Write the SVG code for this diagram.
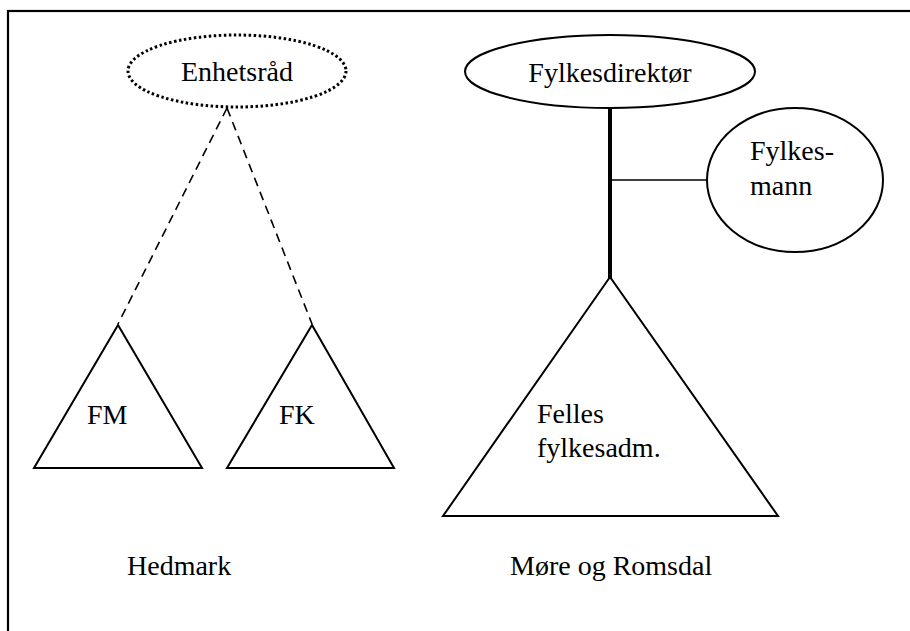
<svg xmlns="http://www.w3.org/2000/svg" width="910" height="631" viewBox="0 0 910 631">
<style>
text{font-family:"Liberation Serif","Times New Roman",serif;font-size:28px;fill:#000}
.shape{fill:none;stroke:#000;stroke-width:2}
.dot{fill:none;stroke:#000;stroke-width:3;stroke-dasharray:2.5 2.5}
.dash{fill:none;stroke:#000;stroke-width:1.6;stroke-dasharray:9 6}
</style>
<rect x="0" y="0" width="910" height="631" fill="#fff"/>
<rect x="8" y="11" width="1000" height="700" fill="none" stroke="#000" stroke-width="2.2"/>
<g id="connectors">
<line class="dash" x1="227" y1="108" x2="118" y2="324"/>
<line class="dash" x1="227" y1="108" x2="312" y2="324"/>
<line x1="610" y1="108" x2="610" y2="278" stroke="#000" stroke-width="4"/>
<line x1="610" y1="180" x2="707" y2="180" stroke="#000" stroke-width="1.6"/>
</g>
<g id="enhetsrad">
<ellipse class="dot" cx="237" cy="71" rx="109" ry="36"/>
<text x="237" y="81" text-anchor="middle">Enhetsråd</text>
</g>
<g id="fylkesdirektor">
<ellipse class="shape" stroke-width="2.5" cx="610" cy="71.5" rx="145" ry="36.5"/>
<text x="610" y="82" text-anchor="middle">Fylkesdirektør</text>
</g>
<g id="fylkesmann">
<ellipse class="shape" stroke-width="2.5" cx="795" cy="180" rx="88" ry="72"/>
<text x="750" y="160">Fylkes-</text>
<text x="750" y="195">mann</text>
</g>
<g id="fm">
<polygon class="shape" points="118,325 34,468 202,468"/>
<text x="87" y="424">FM</text>
</g>
<g id="fk">
<polygon class="shape" points="312,325 227,468 394,468"/>
<text x="279" y="424">FK</text>
</g>
<g id="felles">
<polygon class="shape" points="610,277 443,516 778,516"/>
<text x="537" y="423">Felles</text>
<text x="537" y="457">fylkesadm.</text>
</g>
<g id="hedmark"><text x="127" y="575">Hedmark</text></g>
<g id="more"><text x="510" y="575">Møre og Romsdal</text></g>
</svg>
